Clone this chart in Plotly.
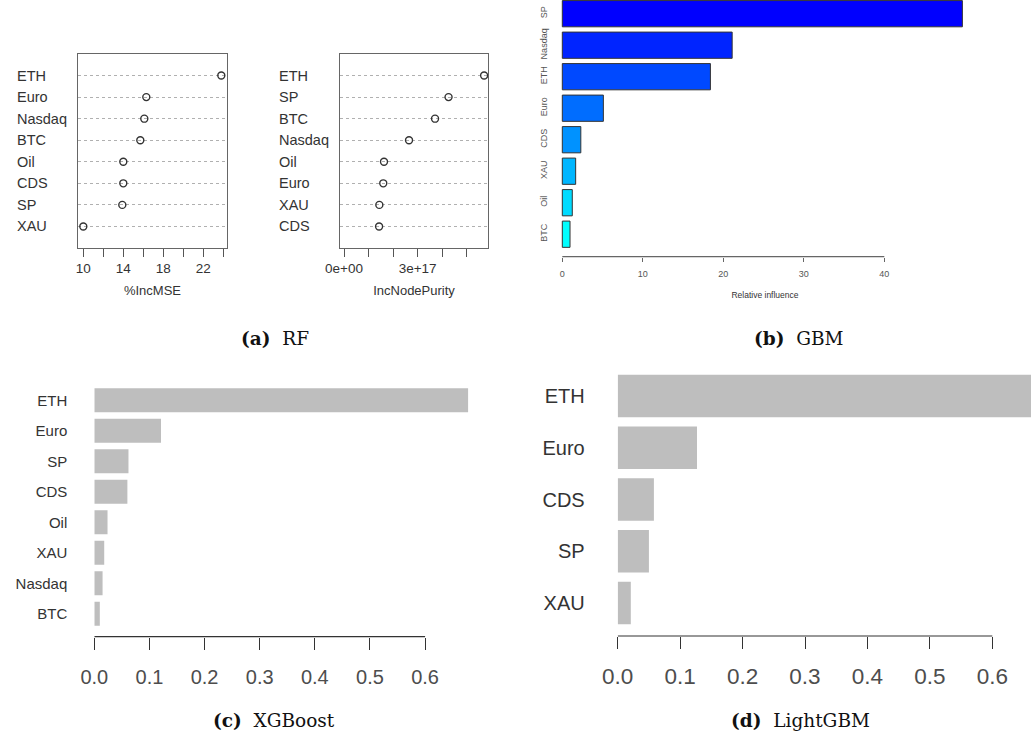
import plotly.graph_objects as go

W, H = 1031, 734

# ---------------- data ----------------
# (a) RF - variable importance (two dotcharts)
rf_vars_mse = ["ETH", "Euro", "Nasdaq", "BTC", "Oil", "CDS", "SP", "XAU"]
rf_incmse = [23.8, 16.3, 16.1, 15.7, 14.0, 14.0, 13.9, 10.0]
rf_vars_purity = ["ETH", "SP", "BTC", "Nasdaq", "Oil", "Euro", "XAU", "CDS"]
rf_incnodepurity = [5.71e17, 4.26e17, 3.71e17, 2.65e17, 1.63e17, 1.60e17, 1.44e17, 1.43e17]
rf_mse_ticks = [10, 12, 14, 16, 18, 20, 22, 24]
rf_mse_ticklabels = ["10", "", "14", "", "18", "", "22", ""]
rf_pur_ticks = [0, 1e17, 2e17, 3e17, 4e17, 5e17]
rf_pur_ticklabels = ["0e+00", "", "", "3e+17", "", ""]

# (b) GBM - relative influence
gbm_vars = ["SP", "Nasdaq", "ETH", "Euro", "CDS", "XAU", "Oil", "BTC"]
gbm_rel_inf = [49.7, 21.1, 18.4, 5.1, 2.3, 1.66, 1.24, 0.96]
gbm_colors = ["#0000FF", "#0024FF", "#0049FF", "#006DFF",
              "#0092FF", "#00B6FF", "#00DBFF", "#00FFFF"]
gbm_ticks = [0, 10, 20, 30, 40]

# (c) XGBoost - gain importance
xgb_vars = ["ETH", "Euro", "SP", "CDS", "Oil", "XAU", "Nasdaq", "BTC"]
xgb_importance = [0.678, 0.121, 0.062, 0.060, 0.024, 0.018, 0.015, 0.010]

# (d) LightGBM - gain importance
lgb_vars = ["ETH", "Euro", "CDS", "SP", "XAU"]
lgb_importance = [0.70, 0.127, 0.058, 0.050, 0.021]

imp_ticks = [0.0, 0.1, 0.2, 0.3, 0.4, 0.5, 0.6]
imp_ticklabels = ["0.0", "0.1", "0.2", "0.3", "0.4", "0.5", "0.6"]

captions = [("(a)", "RF"), ("(b)", "GBM"), ("(c)", "XGBoost"), ("(d)", "LightGBM")]

# ---------------- layout helpers ----------------
def xd(a, b):
    return [a / W, min(b / W, 1.0)]


def yd(top, bottom):
    return [max(1 - bottom / H, 0.0), min(1 - top / H, 1.0)]


SANS = "Liberation Sans, Arial, sans-serif"
SERIF = "DejaVu Serif, Liberation Serif, serif"
TXT = "#333333"
GRAY_TXT = "#555555"

fig = go.Figure()

# (a) RF dotcharts
fig.add_trace(go.Scatter(
    x=rf_incmse, y=rf_vars_mse, mode="markers", xaxis="x", yaxis="y",
    marker=dict(symbol="circle-open", size=7, color="#333333", line=dict(width=1.4)),
    showlegend=False))
fig.add_trace(go.Scatter(
    x=rf_incnodepurity, y=rf_vars_purity, mode="markers", xaxis="x2", yaxis="y2",
    marker=dict(symbol="circle-open", size=7, color="#333333", line=dict(width=1.4)),
    showlegend=False))

# (b) GBM
fig.add_trace(go.Bar(
    x=gbm_rel_inf, y=gbm_vars, orientation="h", xaxis="x3", yaxis="y3",
    width=0.833, marker=dict(color=gbm_colors, line=dict(color="#333333", width=1)),
    showlegend=False))

# (c) XGBoost
fig.add_trace(go.Bar(
    x=xgb_importance, y=xgb_vars, orientation="h", xaxis="x4", yaxis="y4",
    width=0.787, marker=dict(color="#bebebe", line=dict(width=0)),
    showlegend=False))

# (d) LightGBM
fig.add_trace(go.Bar(
    x=lgb_importance, y=lgb_vars, orientation="h", xaxis="x5", yaxis="y5",
    width=0.82, marker=dict(color="#bebebe", line=dict(width=0)),
    showlegend=False))

rf_y_common = dict(
    type="category", range=[-1, 8], showticklabels=False, ticks="",
    showgrid=True, griddash="dot", gridcolor="#b0b0b0", gridwidth=1,
    showline=True, mirror=True, linecolor="#666666", linewidth=1.2,
    zeroline=False, automargin=False, domain=yd(54, 248))

layout = dict(
    template="none",
    width=W, height=H, margin=dict(l=0, r=0, t=0, b=0, pad=0, autoexpand=False),
    paper_bgcolor="white", plot_bgcolor="white",
    font=dict(family=SANS, color=TXT),
    # RF %IncMSE
    xaxis=dict(domain=xd(78, 227), range=[9.47, 24.37], tickvals=rf_mse_ticks,
               ticktext=rf_mse_ticklabels, ticks="outside", ticklen=8, tickwidth=1.2,
               tickcolor="#555555", showgrid=False, zeroline=False,
               showline=True, mirror=True, linecolor="#666666", linewidth=1.2,
               tickfont=dict(size=13.5, color=TXT), anchor="y", automargin=False,
               title=dict(text="%IncMSE", font=dict(size=13, color=TXT), standoff=10)),
    yaxis=dict(anchor="x", categoryarray=rf_vars_mse[::-1], categoryorder="array",
               **rf_y_common),
    # RF IncNodePurity
    xaxis2=dict(domain=xd(340, 488), range=[-0.163e17, 5.868e17], tickvals=rf_pur_ticks,
                ticktext=rf_pur_ticklabels, ticks="outside", ticklen=8, tickwidth=1.2,
                tickcolor="#555555", showgrid=False, zeroline=False,
                showline=True, mirror=True, linecolor="#666666", linewidth=1.2,
                tickfont=dict(size=13.5, color=TXT), anchor="y2", automargin=False,
                title=dict(text="IncNodePurity", font=dict(size=13, color=TXT), standoff=10)),
    yaxis2=dict(anchor="x2", categoryarray=rf_vars_purity[::-1], categoryorder="array",
                **rf_y_common),
    # GBM
    xaxis3=dict(domain=xd(552, 978), range=[-1.28, 51.64], tickvals=gbm_ticks,
                ticks="outside", ticklen=4, tickwidth=1, tickcolor="#666666",
                showgrid=False, zeroline=False, showline=False, automargin=False,
                tickfont=dict(size=9, color=GRAY_TXT), anchor="y3", ticklabelstandoff=4,
                title=dict(text="Relative influence", font=dict(size=8.5, color=TXT), standoff=14)),
    yaxis3=dict(domain=yd(0, 256.7), type="category", categoryarray=gbm_vars[::-1],
                categoryorder="array", range=[-0.714, 7.435], anchor="x3",
                tickangle=-90, ticks="", showgrid=False, zeroline=False, showline=False,
                automargin=False, tickfont=dict(size=9, color=GRAY_TXT), ticklabelstandoff=2),
    # XGBoost
    xaxis4=dict(domain=xd(94.3, 480), range=[0, 0.6996], tickvals=imp_ticks,
                ticktext=imp_ticklabels, ticks="outside", ticklen=12, tickwidth=1.2,
                tickcolor="#333333", showgrid=False, zeroline=False, showline=False,
                automargin=False, tickfont=dict(size=20, color="#4d4d4d"), anchor="y4",
                ticklabelstandoff=10),
    yaxis4=dict(domain=yd(385, 636.7), type="category", categoryarray=xgb_vars[::-1],
                categoryorder="array", range=[-0.75, 7.5], anchor="x4",
                ticks="", showgrid=False, zeroline=False, showline=False, automargin=False,
                tickfont=dict(size=15, color=TXT), ticklabelstandoff=26),
    # LightGBM
    xaxis5=dict(domain=xd(617.7, 1031), range=[0, 0.662], tickvals=imp_ticks,
                ticktext=imp_ticklabels, ticks="outside", ticklen=12, tickwidth=1.2,
                tickcolor="#333333", showgrid=False, zeroline=False, showline=False,
                automargin=False, tickfont=dict(size=22.5, color="#4d4d4d"), anchor="y5",
                ticklabelstandoff=8),
    yaxis5=dict(domain=yd(370, 636), type="category", categoryarray=lgb_vars[::-1],
                categoryorder="array", range=[-0.635, 4.5], anchor="x5",
                ticks="", showgrid=False, zeroline=False, showline=False, automargin=False,
                tickfont=dict(size=20, color=TXT), ticklabelstandoff=32),
)

# axis lines spanning only the tick range (as in R's axis())
shapes = []
for xr, yr, ticks, col in [("x3", "y3", gbm_ticks, "#666666"),
                           ("x4", "y4", imp_ticks, "#333333"),
                           ("x5", "y5", imp_ticks, "#333333")]:
    shapes.append(dict(type="line", xref=xr, yref=yr + " domain",
                       x0=ticks[0], x1=ticks[-1], y0=0, y1=0,
                       line=dict(color=col, width=1.2)))
layout["shapes"] = shapes

annotations = []
# RF row labels (left aligned like R dotchart)
for v in rf_vars_mse:
    annotations.append(dict(x=15 / W, xref="paper", y=v, yref="y", text=v,
                            xanchor="left", yanchor="middle", showarrow=False,
                            font=dict(size=14.5, color=TXT, family=SANS)))
for v in rf_vars_purity:
    annotations.append(dict(x=276.7 / W, xref="paper", y=v, yref="y2", text=v,
                            xanchor="left", yanchor="middle", showarrow=False,
                            font=dict(size=14.5, color=TXT, family=SANS)))

# sub-figure captions
cap_pos = [(275, 338), (799, 338), (274, 720), (800, 720)]
for (lab, name), (cx, cy) in zip(captions, cap_pos):
    annotations.append(dict(x=cx / W, y=1 - cy / H, xref="paper", yref="paper",
                            text="<b>" + lab + "</b>  " + name, showarrow=False,
                            xanchor="center", yanchor="middle",
                            font=dict(size=18.5, color="#111111", family=SERIF)))
layout["annotations"] = annotations

fig.update_layout(**layout)
fig.write_html(
    "out.html",
    config={"displayModeBar": False},
    post_script="document.body.style.margin='0';document.body.style.overflow='hidden';",
)
